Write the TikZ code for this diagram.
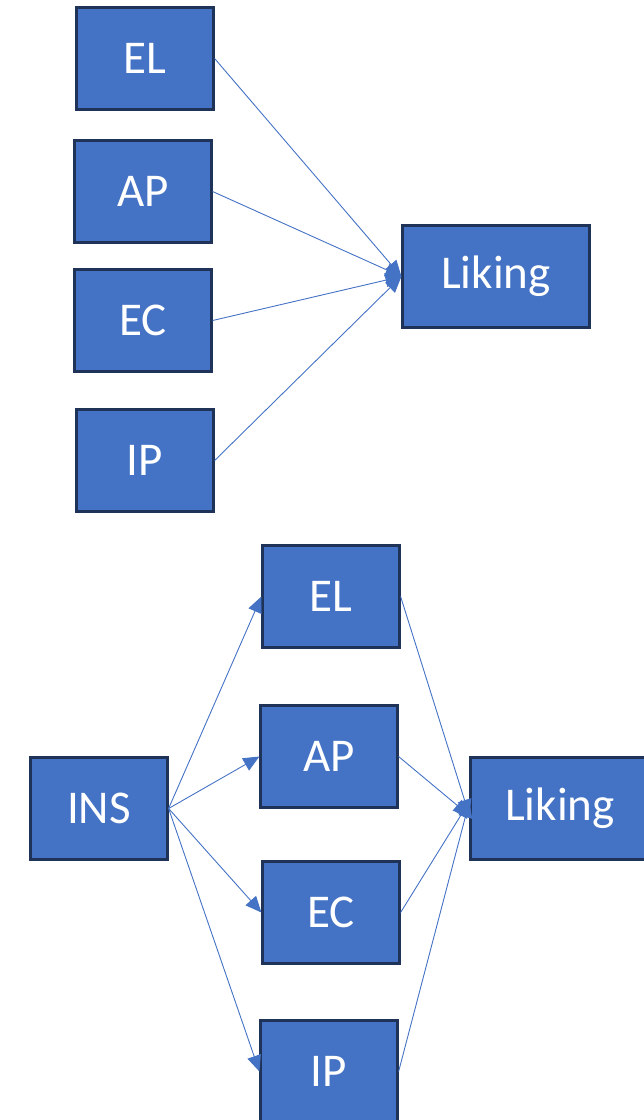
\documentclass[tikz,border=0pt]{standalone}
\usepackage{fontspec}
\setmainfont{Carlito}
\usetikzlibrary{arrows.meta}
\definecolor{boxfill}{HTML}{4472C4}
\definecolor{boxline}{HTML}{1F3358}
\definecolor{arrowc}{HTML}{4472C4}
\begin{document}
\begin{tikzpicture}[x=1pt,y=-1pt,
  box/.style={draw=boxline, line width=2.2pt, fill=boxfill, text=white,
    minimum width=137pt, minimum height=102pt, inner sep=0pt,
    font=\fontsize{47}{50}\selectfont},
  wide/.style={box, minimum width=187pt},
  conn/.style={draw=arrowc, line width=0.9pt, -{Triangle[length=16pt,width=14pt]}}]
\useasboundingbox (0,0) rectangle (644,1120);
% top diagram
\node[box] (el1) at (145,58.5) {\raisebox{-2pt}{EL}};
\node[box] (ap1) at (143,191.5) {\raisebox{-2pt}{AP}};
\node[box] (ec1) at (143,320.5) {\raisebox{-2pt}{EC}};
\node[box] (ip1) at (145,460.5) {\raisebox{-2pt}{IP}};
\node[wide] (lk1) at (496,276.5) {\raisebox{-2pt}{Liking}};
\draw[conn] (el1.east) -- (lk1.west);
\draw[conn] (ap1.east) -- (lk1.west);
\draw[conn] (ec1.east) -- (lk1.west);
\draw[conn] (ip1.east) -- (lk1.west);
% bottom diagram
\node[box] (ins) at (99,808.5) {\raisebox{-2pt}{INS}};
\node[box] (el2) at (331,596.5) {\raisebox{-2pt}{EL}};
\node[box] (ap2) at (329,756.5) {\raisebox{-2pt}{AP}};
\node[box] (ec2) at (331,912.5) {\raisebox{-2pt}{EC}};
\node[box] (ip2) at (329,1071.5) {\raisebox{-2pt}{IP}};
\node[wide] (lk2) at (564,808.5) {\hspace*{-8pt}\raisebox{-2pt}{Liking}};
\coordinate (lkA) at ([yshift=-7pt]lk2.west);
\coordinate (lkB) at ([yshift=7pt]lk2.west);
\draw[conn] (ins.east) -- (el2.west);
\draw[conn] (ins.east) -- (ap2.west);
\draw[conn] (ins.east) -- (ec2.west);
\draw[conn] (ins.east) -- (ip2.west);
\draw[conn] (el2.east) -- (lkA);
\draw[conn] (ap2.east) -- (lkA);
\draw[conn] (ec2.east) -- (lkB);
\draw[conn] (ip2.east) -- (lkB);
\end{tikzpicture}
\end{document}
